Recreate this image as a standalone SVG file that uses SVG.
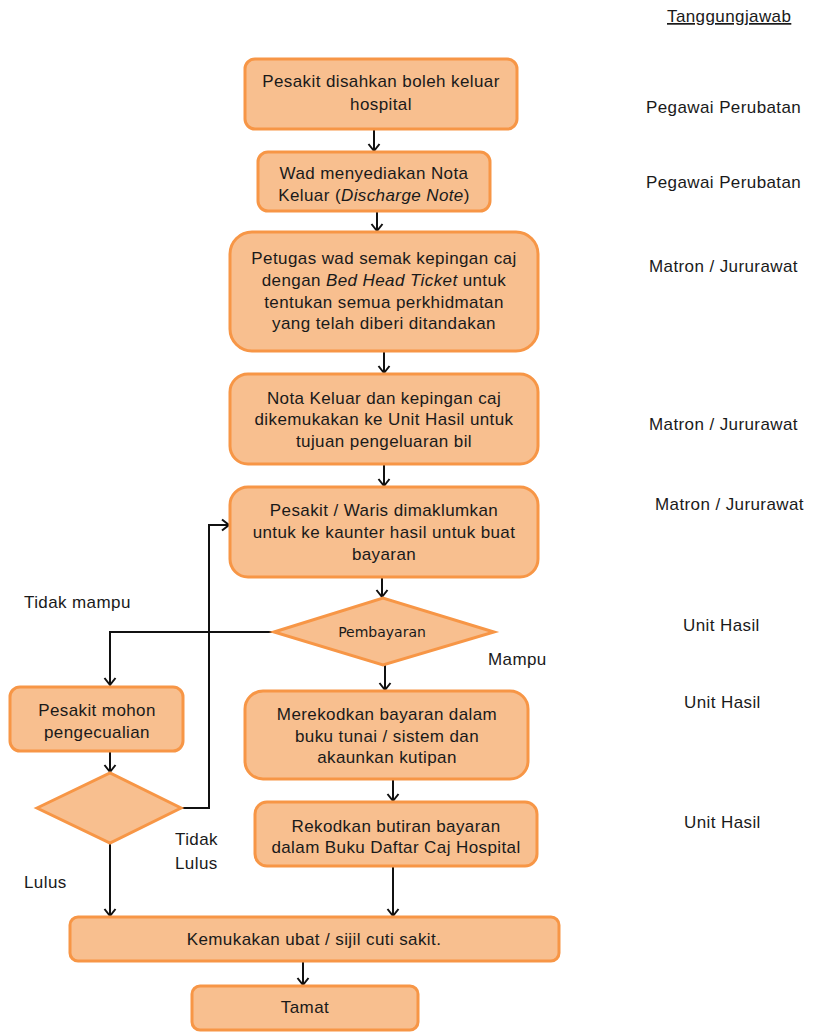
<svg xmlns="http://www.w3.org/2000/svg" width="819" height="1032" viewBox="0 0 819 1032">
<defs>
<style>
.box{fill:#F8BF8F;stroke:#F79646;stroke-width:3}
.t{font-family:"Liberation Sans",Arial,sans-serif;font-size:17px;letter-spacing:0.4px;fill:#1a1a1a}
.c{text-anchor:middle}
.con{fill:none;stroke:#111;stroke-width:2}
.dt{font-family:"DejaVu Sans",Verdana,sans-serif;font-size:14px;fill:#1a1a1a;text-anchor:middle}
</style>
<marker id="arr" markerUnits="userSpaceOnUse" markerWidth="14" markerHeight="14" viewBox="-9 -7 11 14" refX="0" refY="0" orient="auto">
<path d="M-7,-5.5 L0,0 L-7,5.5" fill="none" stroke="#111" stroke-width="2"/>
</marker>
</defs>
<rect width="819" height="1032" fill="#fff"/>

<g id="connectors">
<line class="con" x1="374" y1="130" x2="374" y2="151" marker-end="url(#arr)"/>
<line class="con" x1="377" y1="212" x2="377" y2="231" marker-end="url(#arr)"/>
<line class="con" x1="384" y1="352" x2="384" y2="373" marker-end="url(#arr)"/>
<line class="con" x1="384" y1="465" x2="384" y2="486" marker-end="url(#arr)"/>
<line class="con" x1="382" y1="578" x2="382" y2="597" marker-end="url(#arr)"/>
<line class="con" x1="385" y1="665" x2="385" y2="690" marker-end="url(#arr)"/>
<line class="con" x1="393" y1="780" x2="393" y2="801" marker-end="url(#arr)"/>
<line class="con" x1="393" y1="867" x2="393" y2="916" marker-end="url(#arr)"/>
<polyline class="con" points="274,632 110,632 110,685" marker-end="url(#arr)"/>
<line class="con" x1="110" y1="752" x2="110" y2="772" marker-end="url(#arr)"/>
<polyline class="con" points="181,808 209,808 209,525 229,525" marker-end="url(#arr)"/>
<line class="con" x1="110" y1="843" x2="110" y2="916" marker-end="url(#arr)"/>
<line class="con" x1="303" y1="962" x2="303" y2="985" marker-end="url(#arr)"/>
</g>

<g id="n1"><rect class="box" x="245" y="59" width="272" height="70" rx="10"/>
<text class="t c" x="381" y="87">Pesakit disahkan boleh keluar</text>
<text class="t c" x="381" y="110">hospital</text></g>

<g id="n2"><rect class="box" x="258" y="152" width="232" height="59" rx="10"/>
<text class="t c" x="374" y="179">Wad menyediakan Nota</text>
<text class="t c" x="374" y="201">Keluar (<tspan font-style="italic">Discharge Note</tspan>)</text></g>

<g id="n3"><rect class="box" x="230" y="232" width="308" height="119" rx="22"/>
<text class="t c" x="384" y="264">Petugas wad semak kepingan caj</text>
<text class="t c" x="384" y="286">dengan <tspan font-style="italic">Bed Head Ticket</tspan> untuk</text>
<text class="t c" x="384" y="308">tentukan semua perkhidmatan</text>
<text class="t c" x="384" y="329">yang telah diberi ditandakan</text></g>

<g id="n4"><rect class="box" x="230" y="374" width="308" height="90" rx="18"/>
<text class="t c" x="384" y="404">Nota Keluar dan kepingan caj</text>
<text class="t c" x="384" y="425">dikemukakan ke Unit Hasil untuk</text>
<text class="t c" x="384" y="447">tujuan pengeluaran bil</text></g>

<g id="n5"><rect class="box" x="230" y="487" width="308" height="90" rx="18"/>
<text class="t c" x="384" y="516">Pesakit / Waris dimaklumkan</text>
<text class="t c" x="384" y="538">untuk ke kaunter hasil untuk buat</text>
<text class="t c" x="384" y="560">bayaran</text></g>

<g id="d1"><polygon class="box" points="274,632 383,598 494,632 383,665"/>
<text class="dt" x="382" y="637">Pembayaran</text></g>

<g id="n6"><rect class="box" x="245" y="691" width="283" height="88" rx="18"/>
<text class="t c" x="387" y="720">Merekodkan bayaran dalam</text>
<text class="t c" x="387" y="742">buku tunai / sistem dan</text>
<text class="t c" x="387" y="763">akaunkan kutipan</text></g>

<g id="n7"><rect class="box" x="255" y="802" width="282" height="64" rx="12"/>
<text class="t c" x="396" y="832">Rekodkan butiran bayaran</text>
<text class="t c" x="396" y="853">dalam Buku Daftar Caj Hospital</text></g>

<g id="n8"><rect class="box" x="10" y="687" width="173" height="64" rx="10"/>
<text class="t c" x="97" y="716">Pesakit mohon</text>
<text class="t c" x="97" y="738">pengecualian</text></g>

<g id="d2"><polygon class="box" points="37,808 110,773 181,808 110,843"/></g>

<g id="n9"><rect class="box" x="70" y="917" width="489" height="44" rx="8"/>
<text class="t c" x="314" y="945">Kemukakan ubat / sijil cuti sakit.</text></g>

<g id="n10"><rect class="box" x="192" y="986" width="226" height="44" rx="8"/>
<text class="t c" x="305" y="1013">Tamat</text></g>

<g id="labels">
<text class="t" x="24" y="608">Tidak mampu</text>
<text class="t" x="488" y="665">Mampu</text>
<text class="t" x="175" y="845">Tidak</text>
<text class="t" x="175" y="869">Lulus</text>
<text class="t" x="24" y="888">Lulus</text>
</g>

<g id="responsibility">
<text class="t" x="667" y="22" text-decoration="underline">Tanggungjawab</text>
<text class="t" x="646" y="113">Pegawai Perubatan</text>
<text class="t" x="646" y="188">Pegawai Perubatan</text>
<text class="t" x="649" y="272">Matron / Jururawat</text>
<text class="t" x="649" y="430">Matron / Jururawat</text>
<text class="t" x="655" y="510">Matron / Jururawat</text>
<text class="t" x="683" y="631">Unit Hasil</text>
<text class="t" x="684" y="708">Unit Hasil</text>
<text class="t" x="684" y="828">Unit Hasil</text>
</g>
</svg>
